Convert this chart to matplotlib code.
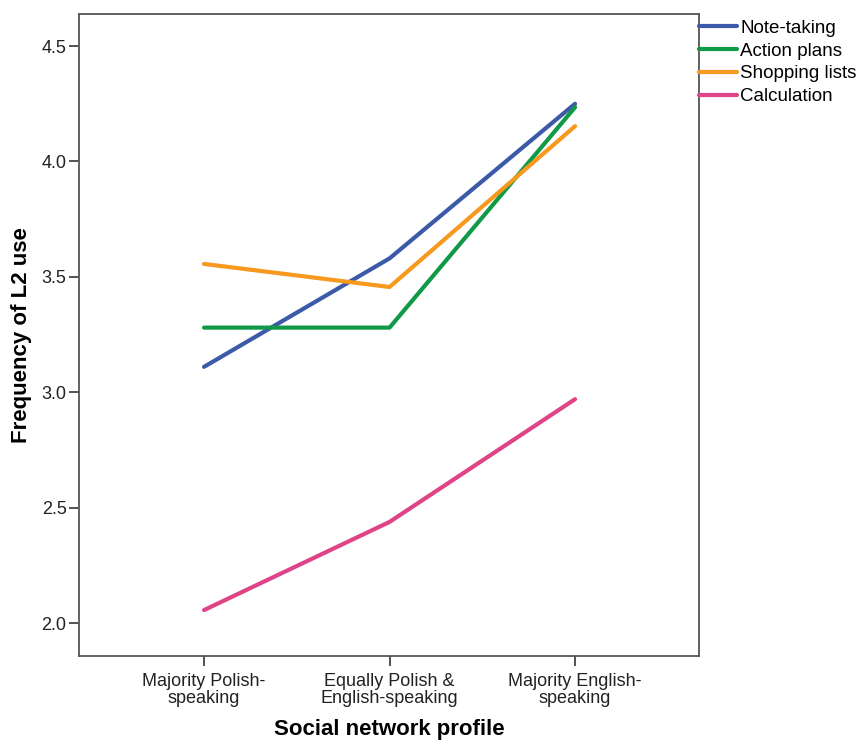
import matplotlib.pyplot as plt

plt.rcParams['font.family'] = ['Liberation Sans', 'DejaVu Sans']

categories = ['Majority Polish-\nspeaking', 'Equally Polish &\nEnglish-speaking', 'Majority English-\nspeaking']
series_names = ['Note-taking', 'Action plans', 'Shopping lists', 'Calculation']
note_taking = [3.11, 3.58, 4.25]
action_plans = [3.28, 3.28, 4.235]
shopping_lists = [3.556, 3.456, 4.153]
calculation = [2.056, 2.438, 2.97]
colors = ['#3d5aa9', '#109a47', '#f7981f', '#df4486']

fig = plt.figure(figsize=(8.63, 7.44), dpi=100)
ax = fig.add_axes([79 / 863, 1 - 656 / 744, 620 / 863, 642 / 744])

x = range(len(categories))
for vals, name, c in zip([note_taking, action_plans, shopping_lists, calculation], series_names, colors):
    ax.plot(x, vals, color=c, lw=3, label=name, solid_capstyle='round')

ax.set_xlim(-0.674, 2.668)
ax.set_ylim(1.857, 4.639)
ax.set_xticks(list(x))
ax.set_xticklabels(categories, fontsize=13, linespacing=1.0)
ax.set_yticks([2.0, 2.5, 3.0, 3.5, 4.0, 4.5])
ax.set_yticklabels(['2.0', '2.5', '3.0', '3.5', '4.0', '4.5'], fontsize=13)
ax.tick_params(length=7, width=1.3, color='#444444', labelcolor='#222222', pad=2)
ax.tick_params(axis='x', pad=5)

for s in ax.spines.values():
    s.set_color('#555555')
    s.set_linewidth(1.3)

ax.set_ylabel('Frequency of L2 use', fontsize=16, fontweight='bold', labelpad=7)
ax.set_xlabel('Social network profile', fontsize=16, fontweight='bold', labelpad=9)

ax.legend(loc='upper left', bbox_to_anchor=(1.0, 0.991), frameon=False, fontsize=13.5,
          handlelength=2.0, handletextpad=0.2, labelspacing=0.3, borderaxespad=0,
          borderpad=0)

fig.savefig('out.png', dpi=100)
